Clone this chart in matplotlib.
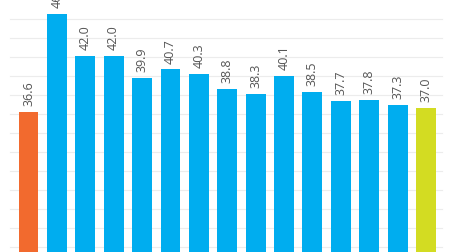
import matplotlib
matplotlib.use("Agg")
from matplotlib import pyplot as plt

values = [36.6, 46.0, 42.0, 42.0, 39.9, 40.7, 40.3, 38.8, 38.3, 40.1, 38.5, 37.7, 37.8, 37.3, 37.0]
labels = ["36.6", "46.0", "42.0", "42.0", "39.9", "40.7", "40.3", "38.8", "38.3", "40.1",
          "38.5", "37.7", "37.8", "37.3", "37.0"]
grid_values = [45.55, 43.72, 41.90, 40.07, 38.24, 36.41, 34.59, 32.76, 30.93, 29.10, 27.28, 25.45, 23.62]

blue = "#00adef"
colors = ["#f26a2e"] + [blue] * 13 + ["#d3dc22"]

fig = plt.figure(figsize=(4.49, 2.52), dpi=100, facecolor="white")
ax = fig.add_axes([0, 0, 1, 1])
ax.set_xlim(-1.004, 14.81)
ax.set_ylim(23.15, 47.38)
ax.axis("off")

for g in grid_values:
    ax.axhline(g, xmin=10 / 449, xmax=442 / 449, color="#ececec", linewidth=0.8, zorder=0)

x = list(range(len(values)))
ax.bar(x, values, width=0.70, color=colors, bottom=0, zorder=2)

for i, (v, lab) in enumerate(zip(values, labels)):
    ax.annotate(lab, (i, v), xytext=(0, 4.3), textcoords="offset points",
                rotation=90, ha="center", va="bottom", fontsize=9,
                family="Open Sans", color="#555555", annotation_clip=False)

fig.savefig("out.png", dpi=100, facecolor="white")
